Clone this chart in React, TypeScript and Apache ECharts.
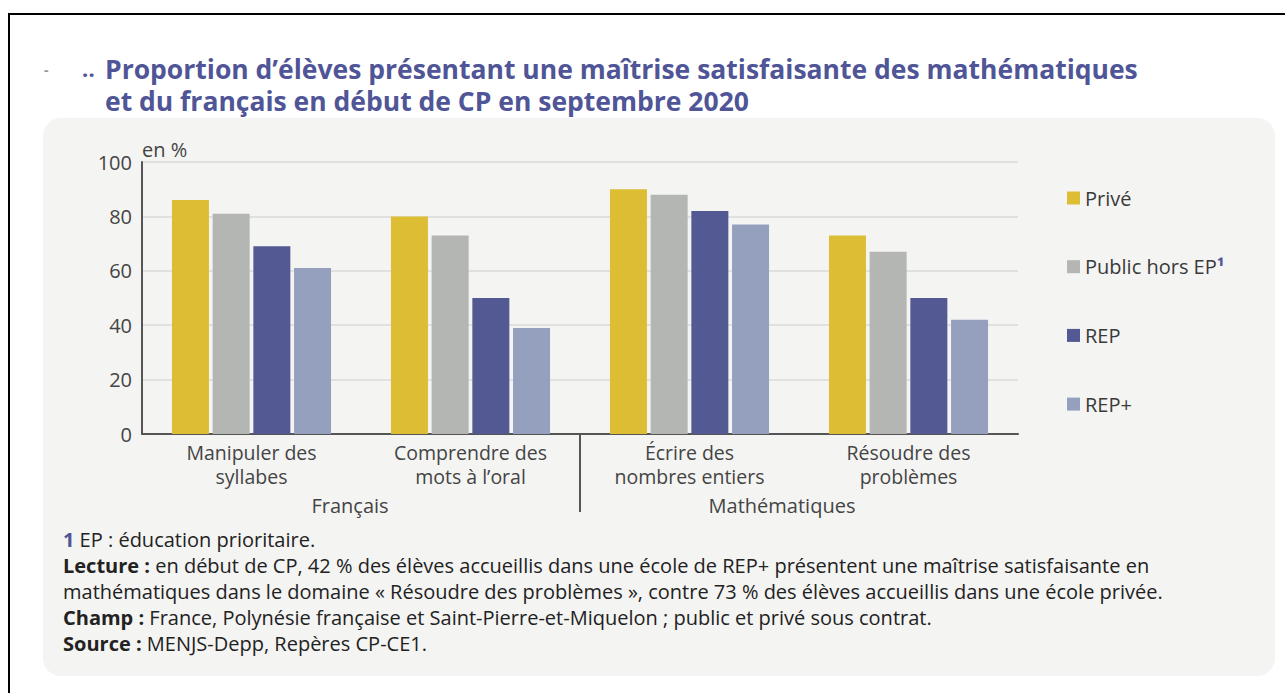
import React, { useEffect, useRef } from "react";
import * as echarts from "echarts";

const categories = [
  "Manipuler des\nsyllabes",
  "Comprendre des\nmots à l’oral",
  "Écrire des\nnombres entiers",
  "Résoudre des\nproblèmes",
];
const seriesNames = ["Privé", "Public hors EP¹", "REP", "REP+"];
const prive = [86, 80, 90, 73];
const publicHorsEP = [81, 73, 88, 67];
const rep = [69, 50, 82, 50];
const repPlus = [61, 39, 77, 42];
const yTicks = [0, 20, 40, 60, 80, 100];
const groupLabels = ["Français", "Mathématiques"];
const titleLines = [
  "Proportion d’élèves présentant une maîtrise satisfaisante des mathématiques",
  "et du français en début de CP en septembre 2020",
];
const notes = [
  "{n|1} EP : éducation prioritaire.",
  "{b|Lecture :} en début de CP, 42 % des élèves accueillis dans une école de REP+ présentent une maîtrise satisfaisante en",
  "mathématiques dans le domaine « Résoudre des problèmes », contre 73 % des élèves accueillis dans une école privée.",
  "{b|Champ :} France, Polynésie française et Saint-Pierre-et-Miquelon ; public et privé sous contrat.",
  "{b|Source :} MENJS-Depp, Repères CP-CE1.",
];

const COLORS = ["#DCBD33", "#B3B6B3", "#525993", "#94A0BD"];
const TITLE_COLOR = "#4F5596";
const FONT = "'Open Sans', 'Noto Sans', sans-serif";
const FS = 20;

export default function App() {
  const ref = useRef<HTMLDivElement>(null);

  useEffect(() => {
    if (!ref.current) return;
    const chart = echarts.init(ref.current, undefined, { renderer: "svg" });
    const values = [prive, publicHorsEP, rep, repPlus];

    const graphic: any[] = [
      {
        type: "rect",
        z: -20,
        shape: { x: 9, y: 14, width: 1300, height: 700 },
        style: { fill: "#fff", stroke: "#000", lineWidth: 2 },
        silent: true,
      },
      {
        type: "rect",
        z: -19,
        shape: { x: 43, y: 118, width: 1232, height: 558, r: 18 },
        style: { fill: "#F4F4F3" },
        silent: true,
      },
      {
        type: "text",
        x: 44,
        y: 62,
        style: { text: "-", fill: "#999", font: `bold 14px ${FONT}` },
      },
      {
        type: "text",
        x: 82,
        y: 57,
        style: { text: "‥", fill: TITLE_COLOR, font: `bold 22px ${FONT}` },
      },
      ...titleLines.map((t, i) => ({
        type: "text",
        x: 105,
        y: 68.5 + i * 32.5,
        style: {
          text: t,
          fill: TITLE_COLOR,
          font: `bold 26.5px ${FONT}`,
          lineHeight: 30,
          verticalAlign: "middle",
        },
      })),
      ...groupLabels.map((g, i) => ({
        type: "text",
        x: i === 0 ? 350 : 782,
        y: 505,
        style: {
          text: g,
          fill: "#444",
          font: `${FS}px ${FONT}`,
          align: "center",
          verticalAlign: "middle",
        },
      })),
      ...notes.map((t, i) => ({
        type: "text",
        x: 63,
        y: 539 + i * 26.2,
        style: {
          text: t,
          fill: "#222",
          fontFamily: "Open Sans",
          fontSize: FS,
          lineHeight: 24,
          verticalAlign: "middle",
          rich: {
            b: { fontWeight: "bold", fontSize: FS, fontFamily: "Open Sans", fill: "#222", lineHeight: 24 },
            n: { fontWeight: "bold", fontSize: FS, fontFamily: "Open Sans", fill: TITLE_COLOR, lineHeight: 24 },
          },
        },
      })),
    ];

    chart.setOption({
      animation: false,
      backgroundColor: "transparent",
      textStyle: { fontFamily: FONT },
      grid: { left: 142, right: 267, top: 162, bottom: 259, containLabel: false },
      legend: {
        orient: "vertical",
        left: 1062,
        top: 183,
        itemWidth: 13,
        itemHeight: 13,
        itemGap: 48.7,
        icon: "rect",
        data: seriesNames,
        formatter: (name: string) =>
          name.endsWith("¹") ? `${name.slice(0, -1)}{s|¹}` : name,
        textStyle: {
          fontSize: FS,
          color: "#3a3a3a",
          fontFamily: FONT,
          rich: {
            s: { fontSize: FS, color: TITLE_COLOR, fontFamily: FONT, fontWeight: "bold" },
          },
        },
        selectedMode: false,
      },
      xAxis: {
        type: "category",
        data: categories,
        axisLine: { lineStyle: { color: "#555", width: 2 } },
        axisTick: { show: false },
        axisLabel: {
          interval: 0,
          fontSize: 19.5,
          lineHeight: 24.5,
          color: "#444",
          margin: 6,
          fontFamily: FONT,
        },
      },
      yAxis: {
        type: "value",
        min: yTicks[0],
        max: yTicks[yTicks.length - 1],
        interval: 20,
        name: "en %",
        nameLocation: "end",
        nameGap: 3,
        nameTextStyle: { fontSize: FS, color: "#444", align: "left", fontFamily: FONT },
        axisLine: { show: true, lineStyle: { color: "#555", width: 2 } },
        axisTick: { show: false },
        axisLabel: { fontSize: FS, color: "#444", margin: 10, fontFamily: FONT },
        splitLine: { lineStyle: { color: "#DADADA", width: 1.5 } },
      },
      series: seriesNames.map((name, i) => ({
        name,
        type: "bar",
        data: values[i],
        barWidth: 37,
        barGap: "10%",
        itemStyle: { color: COLORS[i] },
      })),
      color: COLORS,
      graphic,
    });

    // separator between the two domains, at the boundary of categories 2 and 3
    const c1 = chart.convertToPixel({ xAxisIndex: 0 }, categories[1]) as number;
    const c2 = chart.convertToPixel({ xAxisIndex: 0 }, categories[2]) as number;
    const y0 = chart.convertToPixel({ yAxisIndex: 0 }, 0) as number;
    const bx = (c1 + c2) / 2;
    chart.setOption({
      graphic: [
        ...graphic,
        {
          type: "line",
          shape: { x1: bx, y1: y0, x2: bx, y2: y0 + 78 },
          style: { stroke: "#555", lineWidth: 2 },
          silent: true,
        },
      ],
    });

    return () => chart.dispose();
  }, []);

  return (
    <div
      ref={ref}
      style={{ position: "absolute", left: 0, top: 0, width: 1285, height: 693 }}
    />
  );
}
